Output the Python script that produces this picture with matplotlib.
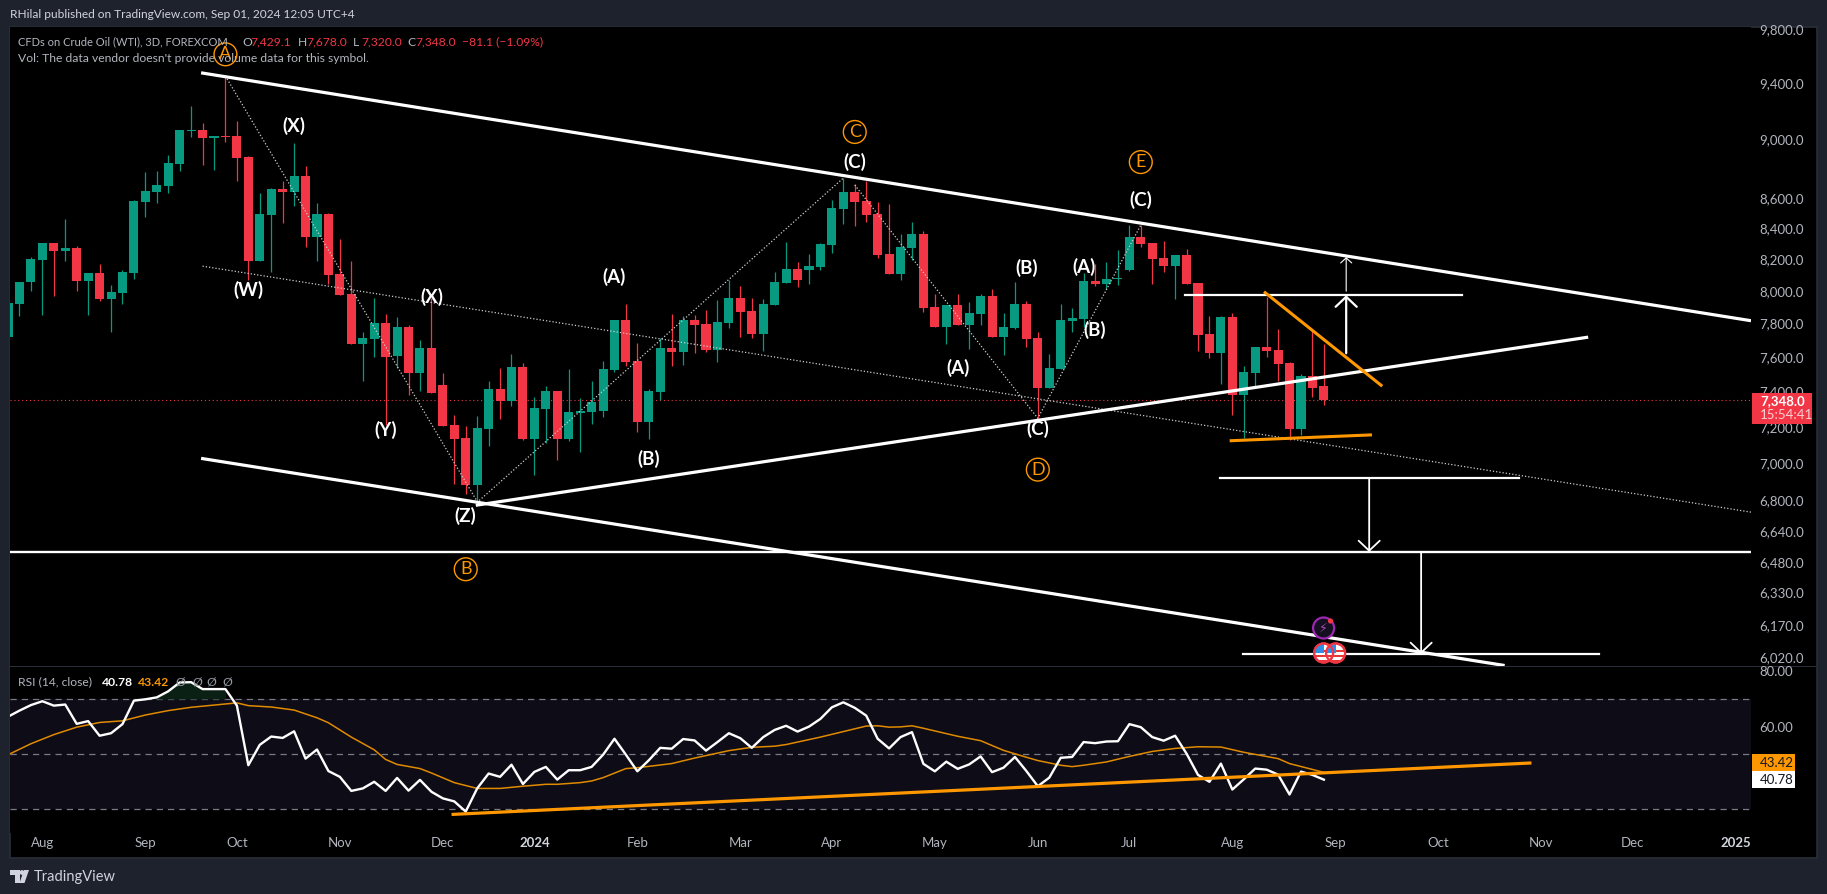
import numpy as np
import matplotlib
matplotlib.use("Agg")
import matplotlib.pyplot as plt
from matplotlib.patches import Circle, Polygon, Rectangle
from matplotlib.ticker import NullLocator
from matplotlib.transforms import Affine2D

# 3D bars, index 0 is the sliver cut by the left edge
opens = [7718, 7918, 8055, 8193, 8302, 8251, 8270, 8061, 8111, 7948, 7986, 8111, 8571, 8638, 8678, 8827,
         9056, 9063, 9007, 9021, 9021, 8875, 8187, 8485, 8658, 8638, 8745, 8340, 8491, 8105, 7980, 7676,
         7706, 7802, 7605, 7778, 7505, 7652, 7435, 7208, 7135, 6880, 7186, 7412, 7343, 7540, 7130, 7298,
         7400, 7130, 7276, 7281, 7287, 7522, 7820, 7575, 7225, 7395, 7652, 7628, 7820, 7796, 7640, 7802,
         7955, 7875, 7736, 7912, 8048, 8136, 8130, 8149, 8289, 8525, 8638, 8578, 8491, 8231, 8105, 8270,
         8360, 7900, 7778, 7912, 7790, 7857, 7967, 7718, 7772, 7918, 7712, 7418, 7528, 7814, 7826, 8061,
         8042, 8073, 8130, 8340, 8302, 8206, 8155, 8225, 8048, 7736, 7623, 7838, 7378, 7505, 7658, 7640,
         7563, 7186, 7487, 7429.1]
highs = [7924, 8055, 8212, 8302, 8302, 8458, 8283, 8111, 8168, 8036, 8130, 8584, 8772, 8779, 8889, 9063,
         9234, 9112, 9021, 9451, 9127, 8882, 8631, 8665, 8712, 8972, 8813, 8564, 8498, 8327, 8187, 7748,
         7955, 7857, 7838, 7790, 7700, 7955, 7505, 7264, 7202, 7258, 7458, 7534, 7617, 7563, 7366, 7429,
         7400, 7528, 7360, 7458, 7575, 7820, 7918, 7682, 7412, 7712, 7857, 7845, 7851, 7881, 7942, 8067,
         8030, 7955, 7948, 8117, 8308, 8180, 8231, 8302, 8584, 8732, 8692, 8712, 8571, 8558, 8360, 8438,
         8380, 7980, 7912, 7980, 7930, 7980, 8011, 7863, 8055, 7936, 7748, 7617, 7918, 7893, 8111, 8168,
         8180, 8257, 8419, 8419, 8302, 8314, 8225, 8263, 8048, 7845, 7845, 7863, 7546, 7658, 7961, 7766,
         7569, 7499, 7754, 7678.0]
lows = [7718, 7845, 7998, 7851, 7967, 8187, 7998, 7851, 7936, 7748, 7918, 8073, 8471, 8564, 8631, 8779,
        9014, 8820, 8786, 8979, 8712, 8067, 8187, 8117, 8432, 8544, 8276, 8187, 8042, 7973, 7676, 7458,
        7599, 7208, 7534, 7378, 7400, 7389, 7202, 6885, 6832, 6784, 7091, 7242, 7315, 7124, 6934, 7108,
        7014, 7119, 7058, 7214, 7253, 7511, 7546, 7169, 7130, 7349, 7546, 7552, 7623, 7628, 7569, 7772,
        7718, 7712, 7634, 7912, 8048, 8023, 8042, 8130, 8238, 8425, 8412, 8438, 8206, 8105, 8067, 8193,
        7869, 7778, 7676, 7790, 7646, 7790, 7718, 7611, 7766, 7658, 7247, 7418, 7528, 7748, 7778, 8030,
        8011, 8036, 8124, 8276, 8042, 8117, 7948, 8042, 7634, 7593, 7441, 7264, 7135, 7418, 7599, 7458,
        7124, 7152, 7366, 7320.0]
closes = [7924, 8055, 8199, 8302, 8251, 8270, 8061, 8111, 7948, 7992, 8117, 8578, 8645, 8685, 8834, 9063,
          9063, 9007, 9021, 9014, 8868, 8187, 8491, 8658, 8638, 8745, 8340, 8491, 8098, 7973, 7676, 7712,
          7802, 7599, 7778, 7505, 7652, 7389, 7202, 7130, 6880, 7191, 7412, 7343, 7540, 7130, 7304, 7400,
          7130, 7281, 7287, 7338, 7528, 7820, 7569, 7225, 7400, 7652, 7628, 7820, 7790, 7640, 7808, 7955,
          7869, 7736, 7918, 8055, 8136, 8067, 8155, 8295, 8531, 8638, 8571, 8485, 8225, 8105, 8276, 8360,
          7893, 7778, 7912, 7790, 7863, 7967, 7718, 7778, 7918, 7706, 7418, 7534, 7820, 7832, 8061, 8042,
          8073, 8079, 8340, 8295, 8199, 8155, 8225, 8042, 7730, 7623, 7838, 7378, 7511, 7658, 7634, 7558,
          7186, 7487, 7418, 7348.0]

rsi = [63.6, 65.8, 67.8, 69.2, 67.6, 68.0, 61.0, 62.0, 56.7, 57.6, 60.9, 69.4, 69.9, 70.6, 72.8, 76.0,
       76.1, 73.6, 73.6, 73.6, 67.6, 46.0, 53.4, 56.4, 55.9, 58.3, 48.4, 51.7, 43.9, 41.8, 36.7, 37.6,
       40.0, 36.7, 41.4, 36.8, 40.7, 36.4, 34.0, 32.9, 29.2, 37.6, 43.0, 41.8, 46.2, 39.2, 43.6, 45.4,
       40.8, 44.2, 44.2, 45.4, 49.8, 55.6, 49.8, 43.8, 47.8, 52.3, 52.0, 55.5, 55.0, 51.3, 54.4, 57.6,
       55.8, 52.3, 56.2, 58.8, 60.3, 58.2, 60.0, 62.8, 67.0, 68.8, 66.8, 64.0, 55.6, 52.1, 56.2, 58.0,
       46.5, 43.8, 47.3, 44.7, 46.3, 49.2, 43.5, 45.1, 49.0, 43.9, 38.4, 41.5, 48.7, 49.0, 54.4, 54.0,
       54.6, 54.7, 60.9, 59.8, 56.2, 54.9, 56.7, 50.2, 42.5, 40.0, 46.6, 37.2, 40.9, 44.8, 44.4, 42.6,
       35.4, 43.7, 42.5, 40.78]
rsi_ma_bars = [0, 2, 4, 6, 8, 10, 12, 14, 16, 18, 20, 21, 23, 25, 27, 28, 30, 32, 33, 34, 36, 37, 39, 41, 43,
               45, 47, 48, 50, 51, 52, 54, 55, 58, 60, 61, 63, 65, 67, 68, 71, 75, 76, 77, 78, 79, 80, 83,
               85, 87, 89, 90, 92, 93, 94, 96, 98, 100, 102, 104, 106, 108, 111, 112, 115]
rsi_ma = [49.8, 53.8, 57.1, 59.8, 61.5, 62.1, 64.2, 65.8, 67.0, 67.8, 68.6, 67.6, 67.1, 66.0, 63.2, 61.4, 56.2,
          51.6, 48.1, 46.3, 44.8, 43.2, 39.7, 37.6, 37.6, 38.4, 39.1, 39.1, 39.7, 40.3, 41.5, 44.8, 45.1, 46.6,
          48.6, 49.5, 51.3, 52.5, 52.9, 53.5, 56.2, 60.2, 60.3, 59.8, 59.9, 60.3, 59.4, 56.5, 54.9, 51.4, 48.9,
          47.7, 46.0, 45.5, 46.0, 47.2, 49.2, 51.0, 52.1, 52.7, 52.6, 50.7, 48.4, 46.6, 43.42]

price_ticks = [9800, 9400, 9000, 8600, 8400, 8200, 8000, 7800, 7600, 7400, 7200, 7000, 6800, 6640, 6480,
               6330, 6170, 6020]
rsi_ticks = [80, 60, 40]
month_bars = [3, 12, 20, 29, 38, 46, 55, 64, 72, 81, 90, 98, 107, 116, 125, 134, 142, 151]
month_labels = ["Aug", "Sep", "Oct", "Nov", "Dec", "2024", "Feb", "Mar", "Apr", "May", "Jun", "Jul", "Aug",
                "Sep", "Oct", "Nov", "Dec", "2025"]

# drawn trend lines: (bar, price) end points
upper_channel = ([16.87, 152.33], [9475, 7817])
mid_channel = ([17, 152.33], [8155, 6738])
lower_channel = ([16.87, 130.8], [7025, 5982])
rising_support = ([40.88, 138.1], [6774, 7718])
orange_fall = ([109.87, 120.0], [7989, 7435])
orange_base = ([106.9, 119.07], [7122, 7154])
wave_path_1 = ([19, 41.03, 73], [9451, 6791, 8732])
wave_path_2 = ([74, 90, 99], [8685, 7247, 8419])
rsi_support = ([38.9, 133.0], [28.2, 46.8])
levels = [(102.9, 127.1, 7973), (105.9, 132.06, 6918), (107.9, 139.05, 6036)]
full_level = 6533
arrows = [(116.95, 7622, 7973, 1.6, 7.6, 7.2), (116.95, 7998, 8212, 0.8, 4.0, 3.6),
          (118.96, 6918, 6533, 1.3, 7.6, 7.2), (123.5, 6533, 6036, 1.3, 7.6, 7.2)]

wave_labels = [("(X)", 25, 9091), ("(W)", 21, 8003), ("(X)", 37, 7961), ("(Y)", 33, 7180), ("(Z)", 40, 6716),
               ("(A)", 53, 8087), ("(B)", 56, 7020), ("(C)", 74, 8841), ("(A)", 83, 7536), ("(C)", 90, 7186),
               ("(B)", 89, 8146), ("(A)", 94, 8150), ("(B)", 95, 7760), ("(C)", 99, 8584)]
cycle_labels = [("A", 19, 9612), ("B", 40, 6446), ("C", 74, 9050), ("D", 90, 6964), ("E", 99, 8841)]

W, H = 1827, 894
GREEN, RED, ORANGE = "#089981", "#f23645", "#ff9800"
GREY = "#b2b5be"
LEGEND_SIZE = 8.7
plt.rcParams["font.family"] = ["Lato", "DejaVu Sans"]

fig = plt.figure(figsize=(W / 100, H / 100), dpi=100, facecolor="#1e222d")
# image pixel coordinates for the page furniture
px = Affine2D().scale(1, -1).translate(0, H)


def axes_rect(x0, y0, x1, y1):
    return [x0 / W, 1 - y1 / H, (x1 - x0) / W, (y1 - y0) / H]


def put(x, y, s, **kw):
    kw.setdefault("va", "center")
    kw.setdefault("color", GREY)
    kw.setdefault("fontsize", LEGEND_SIZE)
    return fig.text(x, y, s, transform=px, **kw)


fig.add_artist(Rectangle((9.5, 27), 1807.5, 831, transform=px, fc="black", ec="#2a2e39", lw=1.2, zorder=-1))
fig.add_artist(Rectangle((9.5, 666), 1807.5, 0.8, transform=px, fc="#2a2e39", ec="none", zorder=-0.5))

ax = fig.add_axes(axes_rect(10, 27, 1751, 665.5), facecolor="black")
ax2 = fig.add_axes(axes_rect(10, 667, 1751, 833), facecolor="black")

# candles
bars = np.arange(len(opens))
o, h, l, c = map(np.array, (opens, highs, lows, closes))
colors = [GREEN if cc >= oo else RED for oo, cc in zip(o, c)]
ax.vlines(bars, l, h, colors=colors, lw=0.9, zorder=2)
ax.bar(bars, np.abs(c - o), bottom=np.minimum(o, c), width=0.79, color=colors, lw=0, zorder=3)
ax.axhline(closes[-1], color=RED, lw=0.8, ls=(0, (1, 2.5)), zorder=1)

ax.set_yscale("log")
ax.set_xlim(0.17, 152.33)
ax.set_ylim(5982, 9818)

for xs, ys in (wave_path_1, wave_path_2, mid_channel):
    ax.plot(xs, ys, color="#cfcfcf", lw=0.9, ls=(0, (1, 1.6)), zorder=4)
for xs, ys in (upper_channel, lower_channel, rising_support):
    ax.plot(xs, ys, color="white", lw=2.3, zorder=5, solid_capstyle="butt")
for x0, x1, y in levels:
    ax.plot([x0, x1], [y, y], color="white", lw=1.6, zorder=5)
ax.axhline(full_level, color="white", lw=1.7, zorder=5)
for xs, ys in (orange_fall, orange_base):
    ax.plot(xs, ys, color=ORANGE, lw=2.2, zorder=6)

for x, y0, y1, lw, hw, hl in arrows:
    ax.annotate("", xy=(x, y1), xytext=(x, y0), zorder=6,
                arrowprops=dict(arrowstyle=f"->,head_length={hl},head_width={hw}", mutation_scale=1,
                                color="white", lw=lw, shrinkA=0, shrinkB=0))

for s, x, y in wave_labels:
    ax.text(x, y, s, color="white", fontsize=13.5, fontweight="bold", ha="center", va="center", zorder=7)
for s, x, y in cycle_labels:
    ax.scatter([x], [y], s=270, facecolors="none", edgecolors=ORANGE, linewidths=1, zorder=7)
    ax.text(x, y, s, color=ORANGE, fontsize=13, ha="center", va="center", zorder=7)

# RSI pane
ax2.axhspan(30, 70, color="#0e0c16", lw=0, zorder=0)
for level in (70, 50, 30):
    ax2.axhline(level, color="#787b86", lw=0.9, ls=(0, (5, 4)), zorder=1)
rsi_bars = np.arange(len(rsi))
rsi_arr = np.array(rsi)
ax2.fill_between(rsi_bars, 70, rsi_arr, where=rsi_arr > 70, color="#0a2015", lw=0, zorder=1)
ax2.plot(rsi_ma_bars, rsi_ma, color="#e08a00", lw=1.1, zorder=3)
ax2.plot(rsi_bars, rsi, color="white", lw=1.7, zorder=4)
ax2.plot(*rsi_support, color=ORANGE, lw=2.3, zorder=5)
ax2.set_xlim(0.17, 152.33)
ax2.set_ylim(21.45, 81.6)

for a in (ax, ax2):
    for sp in a.spines.values():
        sp.set_visible(False)
    a.yaxis.tick_right()
    a.yaxis.set_minor_locator(NullLocator())
    a.tick_params(axis="both", which="both", length=0, labelcolor=GREY, labelsize=9.5)
    a.tick_params(axis="y", pad=6.2)

ax.set_xticks([])
ax.set_yticks(price_ticks)
ax.set_yticklabels([f"{v:,.1f}" for v in price_ticks])
ax2.set_yticks(rsi_ticks)
ax2.set_yticklabels([f"{v:.2f}" for v in rsi_ticks])
ax2.set_xticks(month_bars)
ax2.set_xticklabels(month_labels)
ax2.tick_params(axis="x", pad=3)
for lbl, name in zip(ax2.get_xticklabels(), month_labels):
    if name.isdigit():
        lbl.set_color("#d1d4dc")
        lbl.set_fontweight("bold")

# header and legends
put(10, 15, "RHilal published on TradingView.com, Sep 01, 2024 12:05 UTC+4", color="#d1d4dc", fontsize=8.55)
put(18, 42, "CFDs on Crude Oil (WTI), 3D, FOREXCOM", fontsize=8.05)
for x, letter, val in ((242, "O", "7,429.1"), (298, "H", "7,678.0"), (353, "L", "7,320.0"), (407, "C", "7,348.0")):
    put(x, 42, letter)
    put(x + 8, 42, val, color=RED)
put(462, 42, "\u221281.1 (\u22121.09%)", color=RED)
put(18, 59, "Vol: The data vendor doesn't provide volume data for this symbol.")

put(18, 682, "RSI (14, close)")
put(102, 682, "40.78", color="white", fontweight="bold")
put(138, 682, "43.42", color=ORANGE, fontweight="bold")
for x in (175, 192, 206, 222):
    put(x, 682, "\u00d8", color="#9598a1")

# price tags on the scale
fig.add_artist(Rectangle((1752, 393), 60, 31, transform=px, fc=RED, ec="none", zorder=5))
put(1760, 401, "7,348.0", color="white", fontsize=9.5, fontweight="bold", zorder=6)
put(1760, 415, "15:54:41", color="#fcd0d5", fontsize=9.5, zorder=6)
fig.add_artist(Rectangle((1752, 754.3), 43, 16.7, transform=px, fc=ORANGE, ec="none", zorder=5))
put(1760, 763, "43.42", color="#131722", fontsize=9.5, zorder=6)
fig.add_artist(Rectangle((1752, 771), 43, 16.7, transform=px, fc="white", ec="none", zorder=5))
put(1760, 779.5, "40.78", color="#131722", fontsize=9.5, zorder=6)

# economic event icons
fig.add_artist(Circle((1323.6, 628), 10.5, transform=px, fc="#14101f", ec="#9c27b0", lw=1.6, zorder=5))
put(1323.6, 628, "\u26a1", color="#ab47bc", fontsize=9, ha="center", zorder=6, family="DejaVu Sans")
fig.add_artist(Circle((1330.5, 621), 2.6, transform=px, fc=RED, ec="none", zorder=6))
for cx in (1335.6, 1323.6):
    disc = Circle((cx, 653), 9.5, transform=px, fc="white", ec=RED, lw=1.6, zorder=5)
    fig.add_artist(disc)
    for sy in (649.5, 655, 660):
        band = Rectangle((cx - 10, sy), 20, 2.4, transform=px, fc="#e53935", ec="none", zorder=5.1)
        fig.add_artist(band)
        band.set_clip_path(disc)
    canton = Rectangle((cx - 10, 643), 10, 10, transform=px, fc="#2f8fe6", ec="none", zorder=5.2)
    fig.add_artist(canton)
    canton.set_clip_path(disc)
    fig.add_artist(Circle((cx, 653), 9.5, transform=px, fc="none", ec=RED, lw=1.6, zorder=5.3))

# TradingView logo
logo = "#d1d4dc"
fig.add_artist(Polygon([(10, 870), (20, 870), (20, 883), (15, 883), (15, 875), (10, 875)], transform=px, fc=logo, ec="none"))
fig.add_artist(Circle((22, 872.5), 2.4, transform=px, fc=logo, ec="none"))
fig.add_artist(Polygon([(24, 870), (29, 870), (24.5, 883), (19.5, 883)], transform=px, fc=logo, ec="none"))
put(33.5, 877, "TradingView", color="#d1d4dc", fontsize=10.5)

fig.savefig("out.png", dpi=100, facecolor=fig.get_facecolor())
